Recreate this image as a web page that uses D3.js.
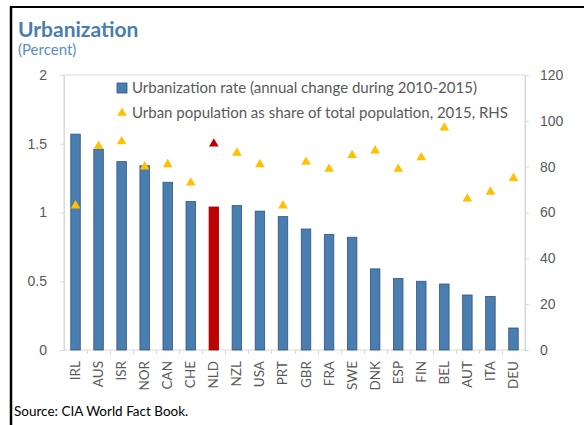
<!DOCTYPE html>
<html>
<head>
<meta charset="utf-8">
<script src="https://cdn.jsdelivr.net/npm/d3@7"></script>
<style>
  body { margin: 0; background: #fff; }
  svg { font-family: Lato, "Liberation Sans", sans-serif; }
</style>
</head>
<body>
<svg id="chart" width="584" height="425"></svg>
<script>
var countries = ["IRL", "AUS", "ISR", "NOR", "CAN", "CHE", "NLD", "NZL", "USA", "PRT",
                 "GBR", "FRA", "SWE", "DNK", "ESP", "FIN", "BEL", "AUT", "ITA", "DEU"];
// annual change of urbanization 2010-2015 (percent, LHS)
var urbRate = [1.57, 1.46, 1.37, 1.34, 1.22, 1.08, 1.04, 1.05, 1.01, 0.97,
               0.88, 0.84, 0.82, 0.59, 0.52, 0.50, 0.48, 0.40, 0.39, 0.16];
// urban population share of total, 2015 (percent, RHS)
var urbShare = [63, 89, 91, 80, 81, 73, 90, 86, 81, 63,
                82, 79, 85, 87, 79, 84, 97, 66, 69, 75];
var leftTicks = [0, 0.5, 1, 1.5, 2];
var rightTicks = [0, 20, 40, 60, 80, 100, 120];
var highlight = "NLD";

var margin = {left: 64, right: 59, top: 75, bottom: 75};
var W = 584, H = 425;
var svg = d3.select("#chart");

var x = d3.scaleBand().domain(countries).range([margin.left, W - margin.right]);
var yL = d3.scaleLinear().domain([0, 2]).range([H - margin.bottom, margin.top]);
var yR = d3.scaleLinear().domain([0, 120]).range([H - margin.bottom, margin.top]);

var grey = "#595959", frame = "#d9d9d9";

// outer border (only top and left show)
svg.append("line").attr("x1", 10).attr("x2", W).attr("y1", 7).attr("y2", 7)
  .attr("stroke", "#000").attr("stroke-width", 2);
svg.append("line").attr("x1", 11).attr("x2", 11).attr("y1", 6).attr("y2", H)
  .attr("stroke", "#000").attr("stroke-width", 2.5);

svg.append("text").attr("x", 18).attr("y", 37)
  .attr("font-size", 21).attr("font-weight", "bold").attr("fill", "#4a7db0")
  .text("Urbanization");
svg.append("text").attr("x", 18).attr("y", 55)
  .attr("font-size", 15).attr("fill", "#5b8fc2")
  .text("(Percent)");

// plot frame
svg.append("rect")
  .attr("x", margin.left).attr("y", margin.top)
  .attr("width", W - margin.left - margin.right)
  .attr("height", H - margin.top - margin.bottom)
  .attr("fill", "none").attr("stroke", frame);

// left axis
var axL = svg.append("g").attr("transform", "translate(" + margin.left + ",0)")
  .call(d3.axisLeft(yL).tickValues(leftTicks).tickSize(4).tickPadding(13)
    .tickFormat(function(d) { return d; }));
axL.select(".domain").attr("stroke", frame);
axL.selectAll(".tick line").attr("stroke", frame);
axL.selectAll("text").attr("font-size", 14).attr("fill", grey).attr("font-family", null);

// right axis
var axR = svg.append("g").attr("transform", "translate(" + (W - margin.right) + ",0)")
  .call(d3.axisRight(yR).tickValues(rightTicks).tickSize(4).tickPadding(11));
axR.select(".domain").attr("stroke", frame);
axR.selectAll(".tick line").attr("stroke", frame);
axR.selectAll("text").attr("font-size", 14).attr("fill", grey).attr("font-family", null);

// category ticks between bars
svg.append("g").selectAll("line")
  .data(countries.slice(1))
  .join("line")
  .attr("x1", function(d) { return Math.round(x(d)) + 0.5; })
  .attr("x2", function(d) { return Math.round(x(d)) + 0.5; })
  .attr("y1", H - margin.bottom).attr("y2", H - margin.bottom + 4)
  .attr("stroke", frame);

// bars
var bw = 9.5;
svg.append("g").selectAll("rect")
  .data(countries)
  .join("rect")
  .attr("x", function(d) { return x(d) + x.bandwidth() / 2 - bw / 2; })
  .attr("y", function(d, i) { return yL(urbRate[i]); })
  .attr("width", bw)
  .attr("height", function(d, i) { return yL(0) - yL(urbRate[i]); })
  .attr("fill", function(d) { return d == highlight ? "#c00000" : "#4a7eb0"; })
  .attr("stroke", function(d) { return d == highlight ? "#a00000" : "#2e5680"; })
  .attr("stroke-width", 0.8);

// triangles
var tri = d3.symbol().type(d3.symbolTriangle).size(40);
svg.append("g").selectAll("path")
  .data(countries)
  .join("path")
  .attr("d", tri)
  .attr("transform", function(d, i) {
    return "translate(" + (x(d) + x.bandwidth() / 2) + "," + yR(urbShare[i]) + ")";
  })
  .attr("fill", function(d) { return d == highlight ? "#c00000" : "#ffc000"; });

// x labels
svg.append("g").selectAll("text")
  .data(countries)
  .join("text")
  .attr("transform", function(d) {
    return "translate(" + (x(d) + x.bandwidth() / 2 + 4.5) + "," + (H - margin.bottom + 11) + ") rotate(-90)";
  })
  .attr("text-anchor", "end")
  .attr("font-size", 13.5)
  .attr("fill", grey)
  .text(function(d) { return d; });

// legend
var lg = svg.append("g");
lg.append("rect").attr("x", 117).attr("y", 83).attr("width", 10).attr("height", 10)
  .attr("fill", "#4a7eb0").attr("stroke", "#2e5680").attr("stroke-width", 0.8);
lg.append("text").attr("x", 132).attr("y", 93).attr("font-size", 15).attr("fill", grey)
  .text("Urbanization rate (annual change during 2010-2015)");
lg.append("path").attr("d", tri).attr("transform", "translate(122,113)").attr("fill", "#ffc000");
lg.append("text").attr("x", 132).attr("y", 118).attr("font-size", 15).attr("fill", grey)
  .text("Urban population as share of total population, 2015, RHS");

svg.append("text").attr("x", 14).attr("y", 416)
  .attr("font-size", 13.5).attr("fill", "#000")
  .text("Source: CIA World Fact Book.");
</script>
</body>
</html>
